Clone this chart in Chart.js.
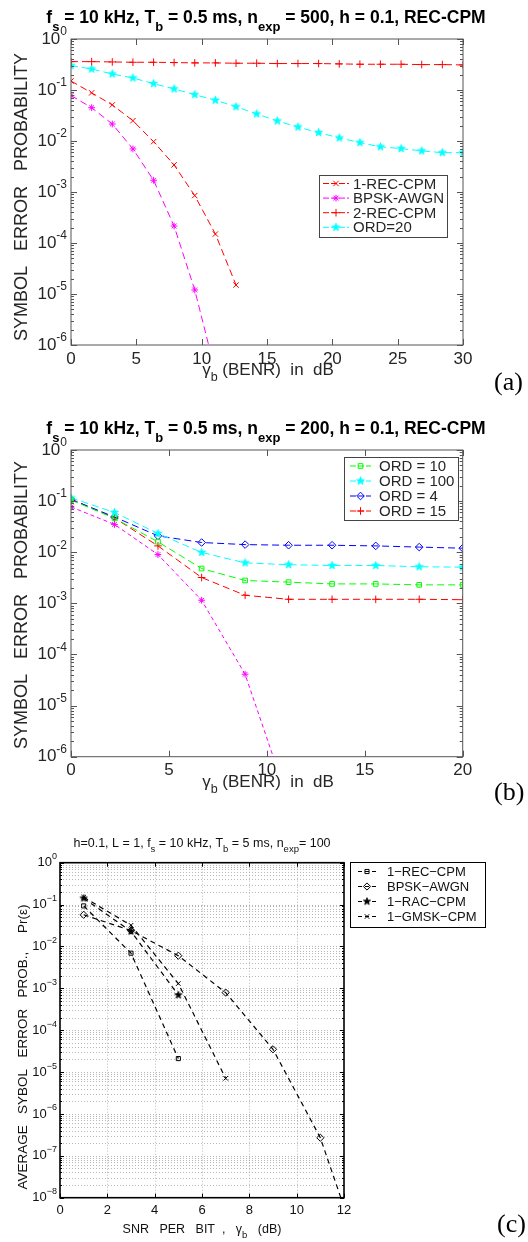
<!DOCTYPE html>
<html>
<head>
<meta charset="utf-8">
<script src="https://cdn.jsdelivr.net/npm/chart.js@4.4.1/dist/chart.umd.min.js"></script>
<style>
  html, body { margin: 0; padding: 0; background: #fff; }
  #wrap { position: relative; width: 528px; height: 1242px; overflow: hidden; }
  #wrap canvas { position: absolute; left: 0; }
</style>
</head>
<body>
<div id="wrap">
  <canvas id="figA" width="528" height="400" style="top:0px"></canvas>
  <canvas id="figB" width="528" height="410" style="top:400px"></canvas>
  <canvas id="figC" width="528" height="432" style="top:810px"></canvas>
</div>
<script>
'use strict';

// ─── (a) n_exp = 500 ───
const xA = [0, 1.58, 3.16, 4.74, 6.32, 7.89, 9.47, 11.05, 12.63, 14.21, 15.79, 17.37, 18.95, 20.53, 22.11, 23.68, 25.26, 26.84, 28.42, 30];
const aRec1 = [0.15, 0.088, 0.051, 0.025, 0.0097, 0.0034, 0.00085, 0.00015, 0.000015];
const aBpsk = [0.078, 0.045, 0.0215, 0.007, 0.0017, 0.000215, 0.000012, 0.0000003];
const aRec2 = [0.36, 0.36, 0.355, 0.35, 0.35, 0.345, 0.34, 0.34, 0.335, 0.335, 0.33, 0.33, 0.33, 0.325, 0.32, 0.32, 0.32, 0.315, 0.315, 0.31];
const aOrd20 = [0.30, 0.258, 0.206, 0.172, 0.133, 0.105, 0.081, 0.063, 0.047, 0.034, 0.0247, 0.0188, 0.0146, 0.0115, 0.0093, 0.0077, 0.0071, 0.0064, 0.0059, 0.0059];
const xTicksA = [0, 5, 10, 15, 20, 25, 30];
const yExpA = [0, -1, -2, -3, -4, -5, -6];

// ─── (b) n_exp = 200 ───
const xB = [0, 2.22, 4.44, 6.67, 8.89, 11.11, 13.33, 15.56, 17.78, 20];
const bOrd10 = [0.105, 0.046, 0.016, 0.0048, 0.0028, 0.0026, 0.0024, 0.0024, 0.0023, 0.0023];
const bOrd100 = [0.116, 0.060, 0.0233, 0.0099, 0.0062, 0.0057, 0.0055, 0.0055, 0.0052, 0.0051];
const bOrd4 = [0.108, 0.049, 0.0209, 0.0155, 0.0141, 0.0137, 0.0137, 0.0133, 0.0126, 0.012];
const bOrd15 = [0.11, 0.047, 0.0133, 0.0032, 0.00144, 0.0012, 0.0012, 0.0012, 0.0012, 0.00118];
const bBpsk = [0.077, 0.035, 0.009, 0.00115, 0.000041, 0.00000013];
const xTicksB = [0, 5, 10, 15, 20];
const yExpB = [0, -1, -2, -3, -4, -5, -6];

// ─── (c) h = 0.1, L = 1 ───
const xC = [1, 3, 5, 7, 9, 11, 12];
const cRec = [0.093, 0.0069, 0.000021];
const cBpsk = [0.057, 0.024, 0.006, 0.00079, 0.000035, 0.00000027, 0.000000006];
const cRac = [0.141, 0.023, 0.00069];
const cGmsk = [0.15, 0.032, 0.0013, 0.0000071];
const xTicksC = [0, 2, 4, 6, 8, 10, 12];
const yExpC = [0, -1, -2, -3, -4, -5, -6, -7, -8];

const SANS = '"Liberation Sans", Arial, Helvetica, sans-serif';
const SERIF = '"Liberation Serif", "Times New Roman", serif';

function pts(xs, ys) {
  return ys.map((y, i) => ({ x: xs[i], y }));
}

function makePentagram(color, R) {
  const c = document.createElement('canvas');
  const s = Math.ceil(2 * R + 2);
  c.width = s; c.height = s;
  const g = c.getContext('2d');
  g.beginPath();
  for (let i = 0; i < 10; i++) {
    const r = i % 2 ? R * 0.42 : R;
    const ang = -Math.PI / 2 + i * Math.PI / 5;
    const px = s / 2 + r * Math.cos(ang), py = s / 2 + r * Math.sin(ang);
    if (i) g.lineTo(px, py); else g.moveTo(px, py);
  }
  g.closePath();
  g.fillStyle = color; g.fill();
  g.strokeStyle = color; g.lineWidth = 0.8; g.stroke();
  return c;
}

// same shapes as the Chart.js point styles, for the legend samples
function drawMarker(ctx, style, x, y, r, color, lw) {
  ctx.save();
  ctx.setLineDash([]);
  ctx.strokeStyle = color;
  ctx.lineWidth = lw || 1;
  if (style instanceof HTMLCanvasElement) {
    ctx.drawImage(style, x - style.width / 2, y - style.height / 2);
    ctx.restore();
    return;
  }
  const d = r * Math.SQRT1_2;
  ctx.beginPath();
  if (style === 'cross' || style === 'star') {
    ctx.moveTo(x - r, y); ctx.lineTo(x + r, y);
    ctx.moveTo(x, y - r); ctx.lineTo(x, y + r);
  }
  if (style === 'crossRot' || style === 'star') {
    ctx.moveTo(x - d, y - d); ctx.lineTo(x + d, y + d);
    ctx.moveTo(x - d, y + d); ctx.lineTo(x + d, y - d);
  }
  if (style === 'rect') ctx.rect(x - d, y - d, 2 * d, 2 * d);
  if (style === 'rectRot') {
    ctx.moveTo(x, y - r); ctx.lineTo(x + r, y); ctx.lineTo(x, y + r); ctx.lineTo(x - r, y); ctx.closePath();
  }
  ctx.stroke();
  ctx.restore();
}

// text runs with subscripts: [{t, sub}] ; align 'center' | 'left'
function drawRich(ctx, segs, x, baseline, f, align) {
  let w = 0;
  segs.forEach(s => {
    ctx.font = s.sub ? f.small : f.main;
    s.w = ctx.measureText(s.t).width;
    w += s.w;
  });
  let cx = align === 'center' ? x - w / 2 : x;
  ctx.textAlign = 'left';
  ctx.textBaseline = 'alphabetic';
  segs.forEach(s => {
    ctx.font = s.sub ? f.small : f.main;
    ctx.fillText(s.t, cx, baseline + (s.sub ? f.drop : 0));
    cx += s.w;
  });
}

function powLabel(ctx, exp, xRight, yMid, f) {
  ctx.font = f.main;
  const wb = ctx.measureText('10').width;
  ctx.font = f.small;
  const we = ctx.measureText(exp).width;
  const x0 = xRight - wb - we;
  ctx.textAlign = 'left';
  ctx.textBaseline = 'middle';
  ctx.font = f.main;
  ctx.fillText('10', x0, yMid);
  ctx.font = f.small;
  ctx.fillText(exp, x0 + wb, yMid - f.rise);
}

function figurePlugin(cfg) {
  return {
    id: 'fig' + cfg.name,
    beforeDatasetsDraw(chart) {
      if (!cfg.grid) return;
      const { ctx, chartArea: a, scales: { x, y } } = chart;
      ctx.save();
      ctx.strokeStyle = cfg.grid.color;
      ctx.lineWidth = 0.7;
      ctx.setLineDash(cfg.grid.dash);
      cfg.xTicks.forEach(v => {
        const px = Math.round(x.getPixelForValue(v)) + 0.5;
        if (px <= a.left + 1 || px >= a.right - 1) return;
        ctx.beginPath(); ctx.moveTo(px, a.top); ctx.lineTo(px, a.bottom); ctx.stroke();
      });
      cfg.yExp.forEach(e => {
        for (let m = 1; m <= 9; m++) {
          const py = Math.round(y.getPixelForValue(m * Math.pow(10, e))) + 0.5;
          if (py <= a.top + 1 || py >= a.bottom - 1) continue;
          ctx.beginPath(); ctx.moveTo(a.left, py); ctx.lineTo(a.right, py); ctx.stroke();
        }
      });
      ctx.restore();
    },
    afterDraw(chart) {
      const { ctx, chartArea: a, scales: { x, y } } = chart;
      ctx.save();
      ctx.setLineDash([]);

      // axis box and inward ticks
      ctx.strokeStyle = cfg.axisColor;
      ctx.lineWidth = cfg.axisWidth;
      ctx.strokeRect(a.left, a.top, a.right - a.left, a.bottom - a.top);
      ctx.lineWidth = 1;
      ctx.beginPath();
      cfg.yExp.forEach(e => {
        for (let m = 1; m <= 9; m++) {
          const v = m * Math.pow(10, e);
          if (v > y.max * 1.0001 || v < y.min * 0.9999) continue;
          const len = m === 1 ? cfg.tickMajor : cfg.tickMinor;
          const py = Math.round(y.getPixelForValue(v)) + 0.5;
          ctx.moveTo(a.left, py); ctx.lineTo(a.left + len, py);
          ctx.moveTo(a.right, py); ctx.lineTo(a.right - len, py);
        }
      });
      cfg.xTicks.forEach(v => {
        const px = Math.round(x.getPixelForValue(v)) + 0.5;
        ctx.moveTo(px, a.bottom); ctx.lineTo(px, a.bottom - cfg.tickMajor);
        ctx.moveTo(px, a.top); ctx.lineTo(px, a.top + cfg.tickMajor);
      });
      ctx.stroke();

      // tick labels
      ctx.fillStyle = cfg.textColor;
      cfg.yExp.forEach(e => {
        const exp = e === 0 ? '0' : cfg.minus + Math.abs(e);
        powLabel(ctx, exp, a.left - cfg.yLabelGap, y.getPixelForValue(Math.pow(10, e)), cfg.tickFont);
      });
      ctx.font = cfg.tickFont.main;
      ctx.textAlign = 'center';
      ctx.textBaseline = 'middle';
      cfg.xTicks.forEach(v => ctx.fillText(String(v), x.getPixelForValue(v), a.bottom + cfg.xLabelGap));

      // titles and axis labels
      ctx.fillStyle = cfg.titleColor;
      drawRich(ctx, cfg.title.segs, cfg.title.x, cfg.title.y, cfg.title.font, 'center');
      ctx.fillStyle = cfg.textColor;
      drawRich(ctx, cfg.xlabel.segs, cfg.xlabel.x, cfg.xlabel.y, cfg.xlabel.font, 'center');
      ctx.save();
      ctx.translate(cfg.ylabel.x, cfg.ylabel.y);
      ctx.rotate(-Math.PI / 2);
      ctx.font = cfg.ylabel.font;
      ctx.textAlign = 'center';
      ctx.textBaseline = 'middle';
      ctx.fillText(cfg.ylabel.text, 0, 0);
      ctx.restore();

      // panel tag
      ctx.fillStyle = '#000';
      ctx.font = cfg.tag.font;
      ctx.textAlign = 'left';
      ctx.textBaseline = 'middle';
      ctx.fillText(cfg.tag.text, cfg.tag.x, cfg.tag.y);

      // legend
      const L = cfg.legend;
      ctx.fillStyle = '#fff';
      ctx.fillRect(L.x, L.y, L.w, L.h);
      ctx.strokeStyle = L.border;
      ctx.lineWidth = L.borderWidth;
      ctx.strokeRect(L.x + 0.5, L.y + 0.5, L.w, L.h);
      let row = 0;
      chart.data.datasets.forEach(ds => {
        if (!ds.label) return;
        const ry = L.y + L.first + row * L.step;
        ctx.strokeStyle = ds.borderColor;
        ctx.lineWidth = ds.borderWidth;
        ctx.setLineDash(L.dash);
        ctx.beginPath(); ctx.moveTo(L.x + L.s0, ry); ctx.lineTo(L.x + L.s1, ry); ctx.stroke();
        ctx.setLineDash([]);
        drawMarker(ctx, ds.pointStyle, L.x + (L.s0 + L.s1) / 2, ry, ds.pointRadius, ds.borderColor, ds.pointBorderWidth);
        ctx.fillStyle = cfg.textColor;
        ctx.font = L.font;
        ctx.textAlign = 'left';
        ctx.textBaseline = 'middle';
        ctx.fillText(ds.label, L.x + L.tx, ry + 1);
        row++;
      });
      ctx.restore();
    }
  };
}

function series(label, xs, ys, color, style, r, dash, lw) {
  return {
    label,
    data: pts(xs, ys),
    borderColor: color,
    backgroundColor: 'rgba(0,0,0,0)',
    borderWidth: lw,
    borderDash: dash,
    pointStyle: style,
    pointRadius: r,
    pointBorderWidth: 1,
    pointBorderColor: color,
    pointBackgroundColor: 'rgba(0,0,0,0)',
    tension: 0,
    fill: false
  };
}

function makeChart(id, datasets, pad, xr, yr, cfg) {
  const canvas = document.getElementById(id);
  return new Chart(canvas.getContext('2d'), {
    type: 'line',
    data: { datasets },
    options: {
      responsive: false,
      animation: false,
      devicePixelRatio: 1,
      layout: { padding: pad },
      plugins: { legend: { display: false }, tooltip: { enabled: false }, title: { display: false } },
      scales: {
        x: { type: 'linear', display: false, min: xr[0], max: xr[1] },
        y: { type: 'logarithmic', display: false, min: yr[0], max: yr[1] }
      }
    },
    plugins: [figurePlugin(cfg)]
  });
}

const fontsAB = {
  tick: { main: '17px ' + SANS, small: '12px ' + SANS, rise: 7 },
  title: { main: 'bold 17.5px ' + SANS, small: 'bold 13px ' + SANS, drop: 8 },
  xlabel: { main: '17px ' + SANS, small: '12.5px ' + SANS, drop: 6 },
  legend: '15px ' + SANS
};

function cfgAB(name, titleSegs, titleY, xTicks, yExp, legend, xlabelY, tagY, ylabelY) {
  return {
    name,
    xTicks, yExp,
    axisColor: '#555', axisWidth: 1, textColor: '#262626', titleColor: '#000',
    tickMajor: 6, tickMinor: 3, yLabelGap: 4, xLabelGap: 14, minus: '-',
    tickFont: fontsAB.tick,
    title: { segs: titleSegs, x: 266, y: titleY, font: fontsAB.title },
    xlabel: { segs: [{ t: 'γ' }, { t: 'b', sub: true }, { t: ' (BENR)  in  dB' }], x: 268, y: xlabelY, font: fontsAB.xlabel },
    ylabel: { text: 'SYMBOL   ERROR   PROBABILITY', x: 22, y: ylabelY, font: '18px ' + SANS },
    tag: { text: '(' + name + ')', x: 494, y: tagY, font: '26px ' + SERIF },
    legend
  };
}

const dashAB = [7, 4];
const cyanStar = makePentagram('#00ffff', 4.2);

// ─── (a) ───
makeChart('figA', [
  series('1-REC-CPM', xA, aRec1, '#ff0000', 'crossRot', 3.8, dashAB, 1),
  series('BPSK-AWGN', xA, aBpsk, '#ff00ff', 'star', 3.4, dashAB, 1),
  series('2-REC-CPM', xA, aRec2, '#ff0000', 'cross', 3.8, dashAB, 1),
  series('ORD=20', xA, aOrd20, '#00ffff', cyanStar, 4, dashAB, 1)
], { left: 71, top: 39, right: 65, bottom: 55 }, [0, 30], [1e-6, 1],
cfgAB('a',
  [{ t: 'f' }, { t: 's', sub: true }, { t: ' = 10 kHz, T' }, { t: 'b', sub: true }, { t: ' = 0.5 ms, n' }, { t: 'exp', sub: true }, { t: ' = 500, h = 0.1, REC-CPM' }],
  22.5, xTicksA, yExpA,
  { x: 319, y: 175, w: 128, h: 62, first: 8.5, step: 14.6, s0: 4, s1: 30, tx: 34, dash: [6, 2], border: '#444', borderWidth: 1, font: fontsAB.legend },
  375, 383, 197));

// ─── (b) ───
makeChart('figB', [
  series('ORD = 10', xB, bOrd10, '#00ff00', 'rect', 3.3, dashAB, 1),
  series('ORD = 100', xB, bOrd100, '#00ffff', cyanStar, 4, dashAB, 1),
  series('ORD = 4', xB, bOrd4, '#0000ff', 'rectRot', 3.8, dashAB, 1),
  series('ORD = 15', xB, bOrd15, '#ff0000', 'cross', 3.8, dashAB, 1),
  series('', xB, bBpsk, '#ff00ff', 'star', 3.4, [4, 3], 1)
], { left: 71, top: 50, right: 65.3, bottom: 53.3 }, [0, 20], [1e-6, 1],
cfgAB('b',
  [{ t: 'f' }, { t: 's', sub: true }, { t: ' = 10 kHz, T' }, { t: 'b', sub: true }, { t: ' = 0.5 ms, n' }, { t: 'exp', sub: true }, { t: ' = 200, h = 0.1, REC-CPM' }],
  34, xTicksB, yExpB,
  { x: 344, y: 57, w: 114, h: 63, first: 9, step: 15, s0: 6, s1: 27, tx: 35, dash: [6, 2], border: '#444', borderWidth: 1, font: fontsAB.legend },
  387, 393, 205));

// ─── (c) ───
const blackStar = makePentagram('#000', 3.8);
const dashC = [5, 4];
makeChart('figC', [
  series('1−REC−CPM', xC, cRec, '#000', 'rect', 2.9, dashC, 1.2),
  series('BPSK−AWGN', xC, cBpsk, '#000', 'rectRot', 3.6, dashC, 1.2),
  series('1−RAC−CPM', xC, cRac, '#000', blackStar, 3.5, dashC, 1.2),
  series('1−GMSK−CPM', xC, cGmsk, '#000', 'crossRot', 3.2, dashC, 1.2)
], { left: 60, top: 52.7, right: 184, bottom: 44.3 }, [0, 12], [1e-8, 1], {
  name: 'c',
  xTicks: xTicksC, yExp: yExpC,
  grid: { color: '#9a9a9a', dash: [1, 2] },
  axisColor: '#000', axisWidth: 1.6, textColor: '#111', titleColor: '#111',
  tickMajor: 4, tickMinor: 2, yLabelGap: 3, xLabelGap: 13, minus: '−',
  tickFont: { main: '13px ' + SANS, small: '9px ' + SANS, rise: 6 },
  title: {
    segs: [{ t: 'h=0.1, L = 1, f' }, { t: 's', sub: true }, { t: ' = 10 kHz, T' }, { t: 'b', sub: true }, { t: ' = 5 ms, n' }, { t: 'exp', sub: true }, { t: '= 100' }],
    x: 202, y: 37, font: { main: '12.5px ' + SANS, small: '9.5px ' + SANS, drop: 5 }
  },
  xlabel: {
    segs: [{ t: 'SNR   PER   BIT  ,   γ' }, { t: 'b', sub: true }, { t: '   (dB)' }],
    x: 202, y: 423, font: { main: '12.5px ' + SANS, small: '9.5px ' + SANS, drop: 5 }
  },
  ylabel: { text: 'AVERAGE   SYBOL   ERROR   PROB.,     Pr(ε)', x: 23, y: 237, font: '13.5px ' + SANS },
  tag: { text: '(c)', x: 497, y: 415, font: '26px ' + SERIF },
  legend: { x: 350, y: 52, w: 135, h: 65, first: 9.5, step: 15, s0: 8, s1: 26, tx: 37, dash: [4, 3], border: '#000', borderWidth: 1, font: '13px ' + SANS }
});
</script>
</body>
</html>
